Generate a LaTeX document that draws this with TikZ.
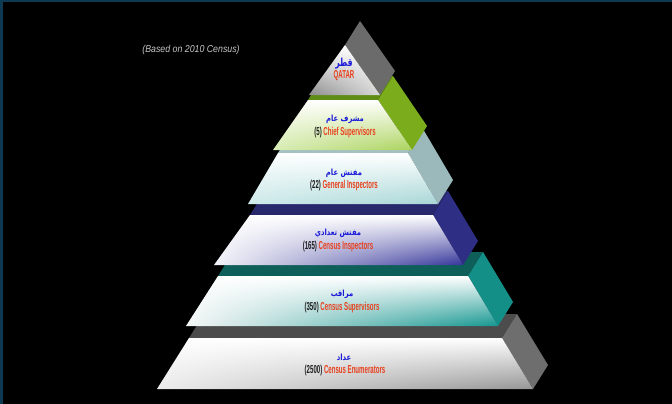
\documentclass[tikz,border=0pt]{standalone}
\usepackage{fontspec}
\setmainfont{Liberation Sans}
\newfontfamily\arabicfont[Script=Arabic]{DejaVu Sans}
\TeXXeTstate=1
\usetikzlibrary{calc,shadings}

\definecolor{framecol}{HTML}{0D3A52}
\definecolor{arblue}{HTML}{1A1AD8}
\definecolor{engred}{HTML}{E8401C}
\definecolor{numcol}{HTML}{1E1E1E}
% tier colours: strip (top face), side, front lower left, front lower right
\colorlet{ta-strip}{black}
\definecolor{ta-side}{HTML}{6B6B6B}  \definecolor{ta-ll}{HTML}{8C8C8C}  \definecolor{ta-lr}{HTML}{D8D8D8}
\definecolor{tb-strip}{HTML}{5E8C14} \definecolor{tb-side}{HTML}{7BAC1C} \definecolor{tb-ll}{HTML}{D8ECB4} \definecolor{tb-lr}{HTML}{ABD35C}
\definecolor{tc-strip}{HTML}{A3C0C2} \definecolor{tc-side}{HTML}{9BB8BB} \definecolor{tc-ll}{HTML}{CFEAEA} \definecolor{tc-lr}{HTML}{A8D6D6}
\definecolor{td-strip}{HTML}{28286C} \definecolor{td-side}{HTML}{2E2E84} \definecolor{td-ll}{HTML}{F2F2F8} \definecolor{td-lr}{HTML}{34349A}
\definecolor{te-strip}{HTML}{0E5E5A} \definecolor{te-side}{HTML}{138F88} \definecolor{te-ll}{HTML}{F4F6F6} \definecolor{te-lr}{HTML}{14968F}
\definecolor{tf-strip}{HTML}{4C4C4C} \definecolor{tf-side}{HTML}{6E6E6E} \definecolor{tf-ll}{HTML}{ECECEC} \definecolor{tf-lr}{HTML}{959595}

% #1 name, #2 top y, #3 bottom y, #4 #5 top left/right x, #6 #7 bottom left/right x
\newcommand{\tier}[7]{%
  \coordinate (#1-tl) at (#4,#2);
  \coordinate (#1-tr) at (#5,#2);
  \coordinate (#1-bl) at (#6,#3);
  \coordinate (#1-br) at (#7,#3);
  \fill [#1-strip] (#1-tl) -- (#1-tr) -- ($(#1-tr)+(depth)$) -- ($(#1-tl)+(depth)$) -- cycle; %上面
  \fill [#1-side] (#1-tr) -- ($(#1-tr)+(depth)$) -- ($(#1-br)+(depth)$) -- (#1-br) -- cycle; %側面
  \shade [upper left=white, upper right=white, lower left=#1-ll, lower right=#1-lr]
    (#1-tl) -- (#1-tr) -- (#1-br) -- (#1-bl) -- cycle; %正面
}
\newcommand{\entext}[2]{\scalebox{0.53}[1]{\textcolor{numcol}{#1}~\textcolor{engred}{#2}}}
\newcommand{\artext}[1]{\scalebox{0.8}[1]{\beginR #1\endR}}

\tikzset{
  artext/.style={font=\arabicfont\bfseries\fontsize{8.5}{10}\selectfont, text=arblue, inner sep=0pt},
  entext/.style={font=\bfseries\fontsize{11.5}{13}\selectfont, inner sep=0pt},
}

\begin{document}
\begin{tikzpicture}[x=1pt,y=-1pt]
    \useasboundingbox (0,0) rectangle (672,404);
    \fill [framecol] (0,0) rectangle (672,404);
    \fill [black] (3,2) rectangle (672,404);

    \coordinate (depth) at (15,-24);

    \tier{tf}{338}{389}{189}{502}{157}{533}
    \tier{te}{276}{326}{218}{468}{186}{498}
    \tier{td}{215}{265}{250}{433}{214}{463}
    \tier{tc}{153}{204}{278}{408}{248}{438}
    \tier{tb}{100}{150}{308}{378}{273}{412}
    \tier{ta}{45}{95}{345}{345}{309}{380}

    \node [font=\itshape\fontsize{10}{12}\selectfont, text=white!78!black] (note) at (191,50)
      {\scalebox{0.88}[1]{(Based on 2010 Census)}};

    \node [artext, font=\arabicfont\bfseries\fontsize{11}{12}\selectfont] (taar) at (344,64)
      {\scalebox{0.7}[1]{\beginR قطر\endR}};
    \node [entext, text=engred] (taen) at (344,76) {\scalebox{0.53}[1]{QATAR}};

    \node [artext] (tbar) at (345,119) {\artext{مشرف عام}};
    \node [entext] (tben) at (345,133) {\entext{(5)}{Chief Supervisors}};

    \node [artext] (tcar) at (344,173) {\artext{مفتش عام}};
    \node [entext] (tcen) at (344,186) {\entext{(22)}{General Inspectors}};

    \node [artext] (tdar) at (338,233) {\artext{مفتش تعدادي}};
    \node [entext] (tden) at (338,247) {\entext{(165)}{Census Inspectors}};

    \node [artext] (tear) at (342,294) {\artext{مراقب}};
    \node [entext] (teen) at (342,308) {\entext{(350)}{Census Supervisors}};

    \node [artext] (tfar) at (344,357) {\artext{عداد}};
    \node [entext] (tfen) at (345,371) {\entext{(2500)}{Census Enumerators}};
\end{tikzpicture}
\end{document}
